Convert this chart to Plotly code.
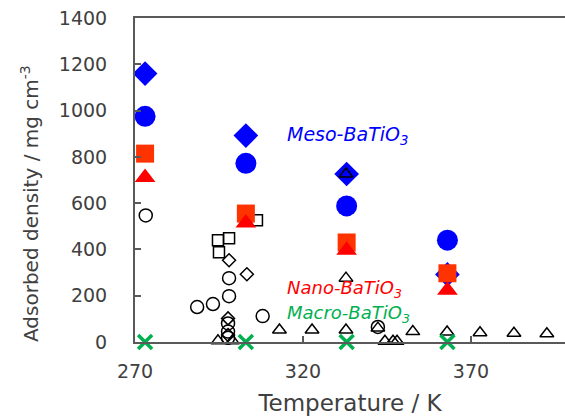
import plotly.graph_objects as go

# ---- data ----
T_fill = [273, 303, 333, 363]
meso_diamond = [1160, 892, 726, 292]
meso_circle = [975, 772, 588, 440]
nano_square = [814, 555, 430, 297]
nano_triangle = [711, 514, 396, 224]
macro_x = [0, 0, 0, 0]

open_circle_T = [273.2, 288.5, 293.2, 298, 298, 308, 297.7, 297.7, 297.7, 342.3]
open_circle_v = [547, 151, 164, 198, 276, 112, 80, 45, 18, 65]
open_square_T = [294.7, 298, 295, 306.3]
open_square_v = [440, 448, 388, 526]
open_diamond_T = [298, 303.3, 297.7, 297.7]
open_diamond_v = [353, 293, 102, 30]
open_tri_T = [332.8, 332.8, 313, 322.7, 332.8, 342.3, 352.7, 362.9, 372.7, 382.8, 392.6,
              294.7, 299, 344.4, 346.8, 348]
open_tri_v = [726, 276, 52, 52, 52, 60, 45, 43, 40, 38, 36, 5, 5, 3, 3, 3]

xticks = [270, 320, 370]
yticks = [0, 200, 400, 600, 800, 1000, 1200, 1400]

BLUE = "#0000FF"
RED = "#FF0000"
ORANGE = "#FF3300"
GREEN = "#00B050"
AX = "#595959"
TXT = "#404040"

fig = go.Figure()

def open_trace(x, y, sym, size):
    fig.add_trace(go.Scatter(x=x, y=y, mode="markers", cliponaxis=False,
                             marker=dict(symbol=sym, size=size, color="black",
                                         line=dict(color="black", width=1.5))))

open_trace(open_circle_T, open_circle_v, "circle-open", 13)
open_trace(open_square_T, open_square_v, "square-open", 11)
open_trace(open_diamond_T, open_diamond_v, "diamond-open", 10)
open_trace(open_tri_T, open_tri_v, "triangle-up-open", 12)

def filled(x, y, sym, size, color):
    fig.add_trace(go.Scatter(x=x, y=y, mode="markers", cliponaxis=False,
                             marker=dict(symbol=sym, size=size, color=color,
                                         line=dict(width=0))))

filled(T_fill, meso_diamond, "diamond", 19, BLUE)
filled(T_fill, meso_circle, "circle", 21, BLUE)
filled(T_fill, nano_square, "square", 18, ORANGE)
filled(T_fill, nano_triangle, "triangle-up", 18, RED)
fig.add_trace(go.Scatter(x=T_fill, y=macro_x, mode="markers", cliponaxis=False,
                         marker=dict(symbol="x-thin", size=14, color=GREEN,
                                     line=dict(color=GREEN, width=3.5))))

# open triangle sitting on top of the meso diamond at 333 K
fig.add_trace(go.Scatter(x=[open_tri_T[0]], y=[open_tri_v[0]], mode="markers",
                         marker=dict(symbol="triangle-up-open", size=12, color="black",
                                     line=dict(color="black", width=1.5))))

fnt = "DejaVu Sans"
fig.add_annotation(x=314.6, y=892, text="<i>Meso-BaTiO<sub>3</sub></i>", showarrow=False,
                   xanchor="left", yanchor="middle", font=dict(family=fnt, size=19, color=BLUE))
fig.add_annotation(x=314.6, y=228, text="<i>Nano-BaTiO<sub>3</sub></i>", showarrow=False,
                   xanchor="left", yanchor="middle", font=dict(family=fnt, size=18, color=RED))
fig.add_annotation(x=314.6, y=122, text="<i>Macro-BaTiO<sub>3</sub></i>", showarrow=False,
                   xanchor="left", yanchor="middle", font=dict(family=fnt, size=18, color=GREEN))

# y-axis title placed as in reference (center ~ 30px, 204px)
fig.add_annotation(xref="paper", yref="paper", x=(30 - 135) / 430, y=(342 - 204) / 324,
                   text="Adsorbed density / mg cm<sup>-3</sup>", textangle=-90,
                   showarrow=False, xanchor="center", yanchor="middle",
                   font=dict(family=fnt, size=20, color=TXT))

fig.update_layout(
    width=565, height=416,
    margin=dict(l=135, r=0, t=18, b=74),
    paper_bgcolor="white", plot_bgcolor="white",
    showlegend=False,
    font=dict(family=fnt, color=TXT),
    xaxis=dict(range=[270, 398], tickvals=xticks, ticktext=[str(v) for v in xticks],
               ticks="inside", ticklen=6, tickcolor=AX, tickwidth=1.5,
               showline=True, linecolor=AX, linewidth=2, mirror=True,
               showgrid=False, zeroline=False,
               tickfont=dict(family=fnt, size=19, color=TXT), ticklabelstandoff=11,
               title=dict(text="Temperature / K", font=dict(family=fnt, size=23, color=TXT),
                          standoff=14)),
    yaxis=dict(range=[0, 1400], tickvals=yticks, ticktext=[str(v) for v in yticks],
               ticks="inside", ticklen=6, tickcolor=AX, tickwidth=1.5,
               showline=True, linecolor=AX, linewidth=2,
               showgrid=False, zeroline=False,
               tickfont=dict(family=fnt, size=19, color=TXT), ticklabelstandoff=22),
)

fig.write_html("out.html")
